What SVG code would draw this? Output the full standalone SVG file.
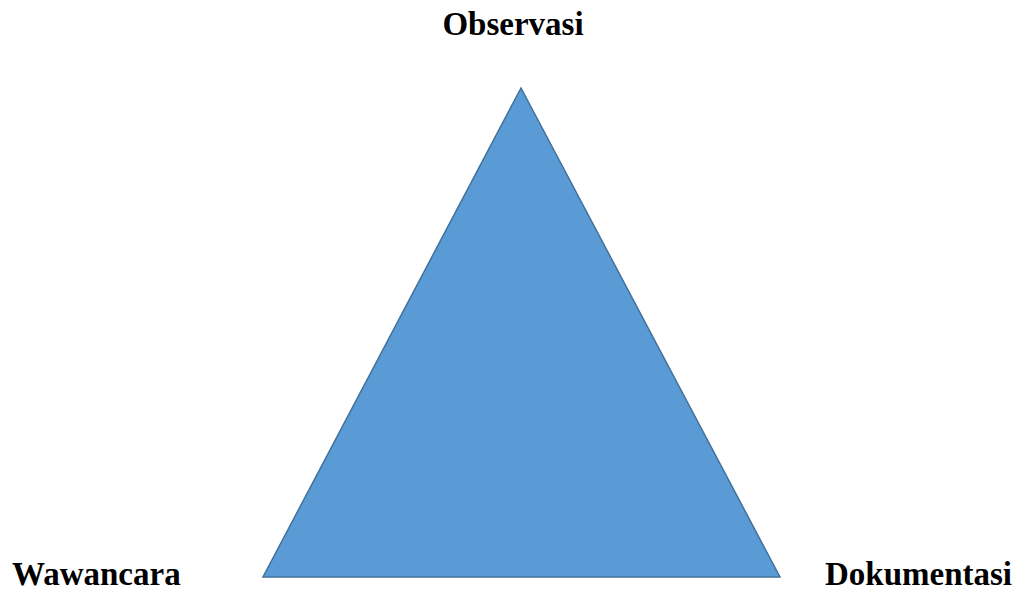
<svg xmlns="http://www.w3.org/2000/svg" width="1019" height="600" viewBox="0 0 1019 600">
<style>
.lbl{font-family:"Liberation Serif","Times New Roman",serif;font-weight:bold;font-size:33px;fill:#000}
.tri{fill:#5B9BD5;stroke:#41719C;stroke-width:1.5}
</style>
<rect width="1019" height="600" fill="#fff"/>
<g id="triangle"><polygon class="tri" points="521,88 263,577 780,577"/></g>
<g id="observasi"><text class="lbl" x="513" y="35" text-anchor="middle">Observasi</text></g>
<g id="wawancara"><text class="lbl" x="12" y="585">Wawancara</text></g>
<g id="dokumentasi"><text class="lbl" x="825" y="585">Dokumentasi</text></g>
<g id="connectors"></g>
</svg>
